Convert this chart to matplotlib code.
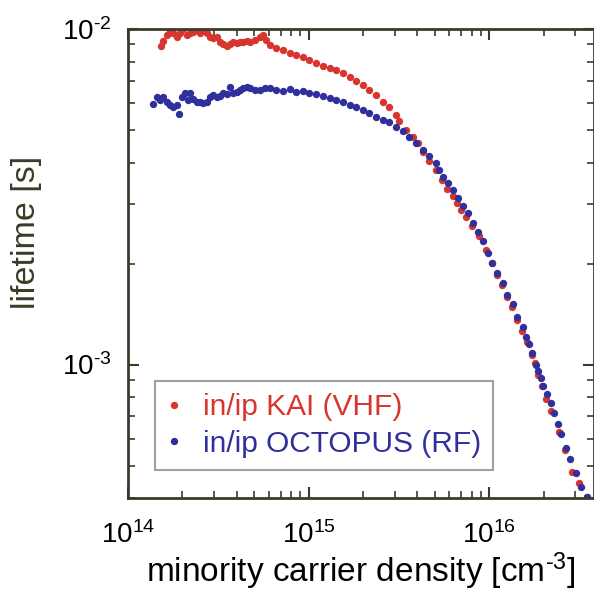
import matplotlib
matplotlib.use("Agg")
import matplotlib.pyplot as plt
from matplotlib.ticker import LogLocator, FuncFormatter
import numpy as np

plt.rcParams["font.family"] = ["Liberation Sans", "DejaVu Sans"]
plt.rcParams["mathtext.fontset"] = "custom"
plt.rcParams["mathtext.rm"] = "Liberation Sans"
plt.rcParams["mathtext.it"] = "Liberation Sans"

# in/ip KAI (VHF)
kai_n = [1.52e14, 1.57e14, 1.64e14, 1.71e14, 1.78e14, 1.86e14, 1.94e14, 2.02e14, 2.11e14, 2.20e14,
         2.30e14, 2.40e14, 2.50e14, 2.61e14, 2.72e14, 2.84e14, 2.96e14, 3.09e14, 3.22e14, 3.36e14,
         3.51e14, 3.66e14, 3.82e14, 3.99e14, 4.16e14, 4.34e14, 4.53e14, 4.72e14, 5.03e14, 5.36e14,
         5.59e14, 5.84e14, 6.09e14, 6.63e14, 7.22e14, 7.86e14, 8.56e14, 9.31e14, 1.01e15, 1.10e15,
         1.20e15, 1.31e15, 1.42e15, 1.55e15, 1.69e15, 1.84e15, 2.00e15, 2.17e15, 2.37e15, 2.58e15,
         2.80e15, 3.05e15, 3.18e15, 3.47e15, 3.77e15, 4.02e15, 4.28e15, 4.66e15, 5.10e15, 5.50e15,
         5.86e15, 6.27e15, 6.65e15, 7.00e15, 7.43e15, 8.05e15, 8.81e15, 9.62e15, 1.04e16, 1.11e16,
         1.18e16, 1.26e16, 1.34e16, 1.43e16, 1.52e16, 1.62e16, 1.73e16, 1.79e16, 1.85e16, 1.97e16,
         2.07e16, 2.20e16, 2.42e16, 2.63e16, 2.86e16, 3.14e16, 3.48e16]
kai_tau = [8.90e-3, 9.23e-3, 9.60e-3, 9.93e-3, 9.71e-3, 9.49e-3, 9.71e-3, 9.98e-3, 9.60e-3, 9.71e-3,
           9.82e-3, 9.93e-3, 9.71e-3, 9.93e-3, 9.71e-3, 9.49e-3, 9.38e-3, 9.49e-3, 9.17e-3, 9.03e-3,
           8.90e-3, 9.03e-3, 9.17e-3, 9.07e-3, 9.17e-3, 9.17e-3, 9.23e-3, 9.17e-3, 9.27e-3, 9.49e-3,
           9.60e-3, 9.27e-3, 8.96e-3, 8.76e-3, 8.66e-3, 8.47e-3, 8.37e-3, 8.24e-3, 8.09e-3, 7.91e-3,
           7.76e-3, 7.64e-3, 7.55e-3, 7.38e-3, 7.21e-3, 7.02e-3, 6.81e-3, 6.58e-3, 6.36e-3, 6.08e-3,
           5.85e-3, 5.55e-3, 5.31e-3, 5.00e-3, 4.78e-3, 4.57e-3, 4.31e-3, 4.05e-3, 3.80e-3, 3.55e-3,
           3.34e-3, 3.17e-3, 3.03e-3, 2.89e-3, 2.76e-3, 2.58e-3, 2.41e-3, 2.20e-3, 2.01e-3, 1.85e-3,
           1.72e-3, 1.59e-3, 1.48e-3, 1.36e-3, 1.26e-3, 1.17e-3, 1.07e-3, 1.007e-3, 9.33e-4, 8.62e-4,
           7.87e-4, 7.25e-4, 6.29e-4, 5.57e-4, 4.78e-4, 4.42e-4, 4.04e-4]

# in/ip OCTOPUS (RF)
oct_n = [1.37e14, 1.44e14, 1.50e14, 1.56e14, 1.64e14, 1.71e14, 1.78e14, 1.86e14, 1.92e14, 1.98e14,
         2.07e14, 2.15e14, 2.20e14, 2.30e14, 2.40e14, 2.50e14, 2.61e14, 2.72e14, 2.84e14, 2.96e14,
         3.09e14, 3.22e14, 3.36e14, 3.51e14, 3.66e14, 3.82e14, 3.99e14, 4.16e14, 4.34e14, 4.53e14,
         4.72e14, 5.03e14, 5.36e14, 5.71e14, 6.09e14, 6.63e14, 7.22e14, 7.86e14, 8.56e14, 9.31e14,
         1.01e15, 1.10e15, 1.20e15, 1.31e15, 1.42e15, 1.55e15, 1.69e15, 1.84e15, 2.00e15, 2.17e15,
         2.37e15, 2.58e15, 2.80e15, 3.05e15, 3.32e15, 3.61e15, 3.94e15, 4.28e15, 4.66e15, 5.08e15,
         5.30e15, 5.53e15, 5.89e15, 6.27e15, 6.68e15, 7.12e15, 7.58e15, 8.09e15, 8.61e15, 9.18e15,
         9.79e15, 1.04e16, 1.11e16, 1.19e16, 1.26e16, 1.35e16, 1.43e16, 1.53e16, 1.60e16, 1.66e16,
         1.73e16, 1.81e16, 1.85e16, 1.93e16, 1.99e16, 2.10e16, 2.19e16, 2.29e16, 2.39e16, 2.49e16,
         2.65e16, 2.79e16, 3.01e16, 3.21e16, 3.49e16]
oct_tau = [5.98e-3, 6.29e-3, 6.15e-3, 6.27e-3, 6.08e-3, 5.94e-3, 5.85e-3, 5.94e-3, 5.58e-3, 6.26e-3,
           6.46e-3, 6.15e-3, 6.46e-3, 6.18e-3, 6.08e-3, 6.04e-3, 6.01e-3, 6.08e-3, 6.26e-3, 6.36e-3,
           6.26e-3, 6.32e-3, 6.46e-3, 6.40e-3, 6.73e-3, 6.43e-3, 6.50e-3, 6.58e-3, 6.66e-3, 6.73e-3,
           6.66e-3, 6.58e-3, 6.58e-3, 6.65e-3, 6.66e-3, 6.58e-3, 6.55e-3, 6.61e-3, 6.50e-3, 6.55e-3,
           6.46e-3, 6.40e-3, 6.32e-3, 6.22e-3, 6.15e-3, 6.08e-3, 5.94e-3, 5.85e-3, 5.74e-3, 5.61e-3,
           5.46e-3, 5.36e-3, 5.27e-3, 5.12e-3, 4.95e-3, 4.78e-3, 4.57e-3, 4.37e-3, 4.17e-3, 3.98e-3,
           3.80e-3, 3.63e-3, 3.47e-3, 3.32e-3, 3.13e-3, 2.96e-3, 2.83e-3, 2.65e-3, 2.49e-3, 2.34e-3,
           2.15e-3, 2.01e-3, 1.88e-3, 1.75e-3, 1.61e-3, 1.51e-3, 1.39e-3, 1.29e-3, 1.21e-3, 1.15e-3,
           1.08e-3, 1.00e-3, 9.55e-4, 9.13e-4, 8.62e-4, 8.14e-4, 7.69e-4, 7.18e-4, 6.63e-4, 6.19e-4,
           5.65e-4, 5.22e-4, 4.76e-4, 4.30e-4, 4.02e-4]

RED = "#d8352f"
BLUE = "#30309c"
AXC = "#3a3a2e"


def pow10(v, pos):
    e = int(round(np.log10(v)))
    s = str(abs(e))
    if e < 0:
        s = "\u2010" + s
    return "10$^{" + s + "}$"


fig = plt.figure(figsize=(5.94, 5.96), dpi=100)
ax = fig.add_axes([0.2155, 0.1644, 0.7845, 0.7869])

ax.plot(kai_n, kai_tau, "o", color=RED, ms=5.3, mew=0, label="in/ip KAI (VHF)")
ax.plot(oct_n, oct_tau, "o", color=BLUE, ms=5.3, mew=0, label="in/ip OCTOPUS (RF)")

ax.set_xscale("log")
ax.set_yscale("log")
ax.set_xlim(1e14, 3.8e16)
ax.set_ylim(4.0e-4, 1e-2)

ax.xaxis.set_major_locator(LogLocator(base=10))
ax.yaxis.set_major_locator(LogLocator(base=10))
ax.xaxis.set_major_formatter(FuncFormatter(pow10))
ax.yaxis.set_major_formatter(FuncFormatter(pow10))
ax.tick_params(which="both", direction="in", top=True, right=True, color=AXC)
ax.tick_params(which="major", length=8, width=1.5, labelsize=20)
ax.tick_params(axis="x", which="major", pad=17)
ax.tick_params(axis="y", which="major", pad=12)
ax.tick_params(which="minor", length=5, width=1.2)
for s in ax.spines.values():
    s.set_color(AXC)
    s.set_linewidth(2)

ax.set_xlabel("minority carrier density [cm$^{\u20103}$]", fontsize=24, labelpad=1)
ax.set_ylabel("lifetime [s]", fontsize=24.5, color="#3c3c26")
ax.yaxis.set_label_coords(-0.184, 0.567)

leg = ax.legend(loc="lower left", bbox_to_anchor=(0.058, 0.06), fontsize=21.5,
                frameon=True, fancybox=False, edgecolor="#888888", markerscale=1.0,
                handlelength=0.5, handletextpad=0.7, borderpad=0.4, labelspacing=0.3,
                borderaxespad=0)
leg.get_frame().set_linewidth(1.5)
for txt, c in zip(leg.get_texts(), [RED, BLUE]):
    txt.set_color(c)

fig.savefig("out.png", dpi=100)
